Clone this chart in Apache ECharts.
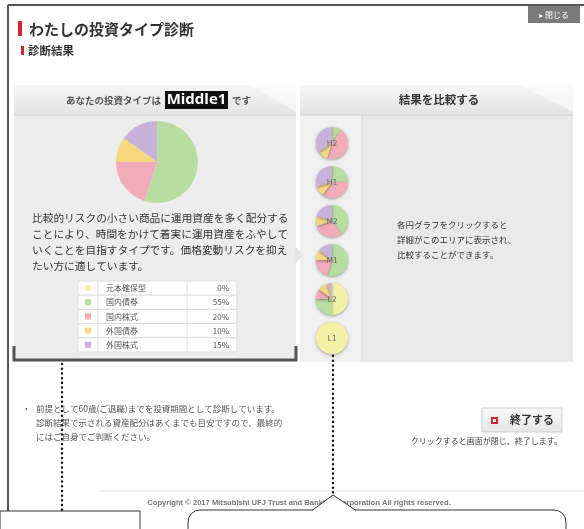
<!DOCTYPE html>
<html>
<head>
<meta charset="utf-8">
<script src="https://cdn.jsdelivr.net/npm/echarts@6/dist/echarts.min.js"></script>
<style>
  html, body { margin: 0; padding: 0; background: #fff; }
  #chart { width: 584px; height: 529px; }
</style>
</head>
<body>
<div id="chart"></div>
<script>
// data
const assetNames = ["元本確保型", "国内債券", "国内株式", "外国債券", "外国株式"];
const resultType = "Middle1";
const resultValues = [0, 55, 20, 10, 15];

const typeNames = ["H2", "H1", "M2", "M1", "L2", "L1"];
const typeH2 = [0, 10, 45, 10, 35];
const typeH1 = [0, 25, 35, 10, 30];
const typeM2 = [0, 40, 30, 10, 20];
const typeM1 = [0, 55, 20, 10, 15];
const typeL2 = [50, 25, 10, 10, 5];
const typeL1 = [100, 0, 0, 0, 0];
const typeValues = [typeH2, typeH1, typeM2, typeM1, typeL2, typeL1];

const resultLines = [
  "比較的リスクの小さい商品に運用資産を多く配分する",
  "ことにより、時間をかけて着実に運用資産をふやして",
  "いくことを目指すタイプです。価格変動リスクを抑え",
  "たい方に適しています。"
];
const compareLines = [
  "各円グラフをクリックすると",
  "詳細がこのエリアに表示され、",
  "比較することができます。"
];
const noteLines = [
  "前提として60歳(ご退職)までを投資期間として診断しています。",
  "診断結果で示される資産配分はあくまでも目安ですので、最終的",
  "にはご自身でご判断ください。"
];

// styles
const assetColors = ["#f3f1a6", "#b9dca0", "#f2abba", "#f6d87f", "#c9b2da"];
const FONT = '"Noto Sans CJK JP", "Noto Sans", sans-serif';

const chart = echarts.init(document.getElementById("chart"), null, { renderer: "canvas" });

function txt(text, x, y, size, opts) {
  opts = opts || {};
  return {
    type: "text",
    z: opts.z || 5,
    style: {
      text: text,
      x: x,
      y: y,
      fontSize: size,
      fontFamily: opts.family || FONT,
      fontWeight: opts.bold ? "bold" : "normal",
      fill: opts.color || "#444",
      textAlign: opts.align || "left",
      textVerticalAlign: "middle"
    }
  };
}

function rect(x, y, w, h, style, z) {
  return { type: "rect", z: z || 1, shape: { x: x, y: y, width: w, height: h }, style: style };
}

function line(x1, y1, x2, y2, style, z) {
  return { type: "line", z: z || 2, shape: { x1: x1, y1: y1, x2: x2, y2: y2 }, style: style };
}

function headerFill() {
  return new echarts.graphic.LinearGradient(0, 0, 0, 1, [
    { offset: 0, color: "#f6f6f6" },
    { offset: 1, color: "#e3e3e3" }
  ]);
}

const graphics = [];

// page frame
graphics.push(line(8, 5, 584, 5, { stroke: "#555", lineWidth: 2 }));
graphics.push(line(8, 5, 8, 512, { stroke: "#555", lineWidth: 2 }));
graphics.push(rect(528, 6, 52, 17, { fill: "#7a7a7a" }, 3));
graphics.push(txt("▸ 閉じる", 554, 15, 8, { color: "#fff", align: "center" }));

// titles
graphics.push(rect(18, 21, 4, 15, { fill: "#d9232d" }, 3));
graphics.push(txt("わたしの投資タイプ診断", 29, 29, 15, { color: "#333", bold: true }));
graphics.push(rect(21, 46, 3, 9, { fill: "#d9232d" }, 3));
graphics.push(txt("診断結果", 28, 51, 11.5, { color: "#333", bold: true }));

// left panel
graphics.push(rect(14, 85, 282, 275, { fill: "#ededed" }, 1));
graphics.push(rect(14, 85, 282, 30, { fill: headerFill() }, 2));
graphics.push({ type: "polygon", z: 2, shape: { points: [[250, 85], [296, 85], [296, 112]] }, style: { fill: "rgba(255,255,255,0.55)" } });
graphics.push(line(14, 115, 296, 115, { stroke: "#d2d2d2", lineWidth: 1 }, 3));
graphics.push(txt("あなたの投資タイプは", 161, 100, 9.5, { bold: true, color: "#555", align: "right" }));
graphics.push(rect(165, 91, 63, 18, { fill: "#111" }, 3));
graphics.push(txt(resultType, 196.5, 100, 15, { bold: true, color: "#fff", align: "center", family: '"Open Sans", "Noto Sans", sans-serif' }));
graphics.push(txt("です", 232, 100, 9.5, { bold: true, color: "#555" }));
resultLines.forEach((t, i) => graphics.push(txt(t, 32, 218 + i * 16, 10.7, { color: "#333" })));

// allocation table
const rowH = 14.2;
assetNames.forEach((name, i) => {
  const y = 281 + i * rowH;
  graphics.push(rect(78, y, 159, rowH, { fill: "#fff", stroke: "#dcdcdc", lineWidth: 1 }, 3));
  graphics.push(line(98, y, 98, y + rowH, { stroke: "#dcdcdc", lineWidth: 1 }, 4));
  graphics.push(line(187, y, 187, y + rowH, { stroke: "#dcdcdc", lineWidth: 1 }, 4));
  graphics.push(rect(85, y + 4, 6, 6, { fill: assetColors[i] }, 4));
  graphics.push(txt(name, 106, y + rowH / 2, 8, { color: "#555" }));
  graphics.push(txt(resultValues[i] + "%", 229, y + rowH / 2, 8, { color: "#555", align: "right" }));
});

// bracket under left panel
graphics.push({ type: "polyline", z: 4, shape: { points: [[14, 346], [14, 360], [296, 360], [296, 346]] }, style: { stroke: "#555", lineWidth: 3, fill: null } });

// arrow between panels
graphics.push({ type: "polygon", z: 4, shape: { points: [[296, 248], [303, 255], [296, 262]] }, style: { fill: "#e6e6e6", stroke: "#d8d8d8", lineWidth: 0.5 } });

// right panel
graphics.push(rect(300, 85, 273, 277, { fill: "#eaeaea" }, 1));
graphics.push(rect(300, 115, 62, 247, { fill: "#f0f0f0" }, 2));
graphics.push(line(362, 115, 362, 362, { stroke: "#dcdcdc", lineWidth: 1 }, 3));
graphics.push(rect(300, 85, 273, 30, { fill: headerFill() }, 2));
graphics.push({ type: "polygon", z: 2, shape: { points: [[520, 85], [573, 85], [573, 112]] }, style: { fill: "rgba(255,255,255,0.55)" } });
graphics.push(line(300, 115, 573, 115, { stroke: "#d2d2d2", lineWidth: 1 }, 3));
graphics.push(txt("結果を比較する", 439, 100, 11.5, { bold: true, color: "#333", align: "center" }));
compareLines.forEach((t, i) => graphics.push(txt(t, 397, 225 + i * 15, 8.5, { color: "#333" })));

// dotted leader lines
const dots = { stroke: "#111", lineWidth: 2.4, lineDash: [0.1, 4.6], lineCap: "round" };
graphics.push(line(62, 364, 62, 529, dots, 6));
graphics.push(line(333, 356, 333, 494, dots, 6));

// notes
graphics.push(txt("・", 22, 409, 8.5, { color: "#555" }));
noteLines.forEach((t, i) => graphics.push(txt(t, 36, 409 + i * 14, 8.5, { color: "#555" })));

// close button
graphics.push(rect(482, 408, 80, 24, {
  fill: new echarts.graphic.LinearGradient(0, 0, 0, 1, [
    { offset: 0, color: "#fafafa" }, { offset: 1, color: "#e6e6e6" }
  ]),
  stroke: "#cfcfcf", lineWidth: 1
}, 3));
graphics.push(rect(491, 417, 7, 7, { fill: "#d9232d" }, 4));
graphics.push(rect(493, 419, 3, 3, { fill: "#fff" }, 5));
graphics.push(txt("終了する", 510, 420, 11, { bold: true, color: "#333" }));
graphics.push(txt("クリックすると画面が閉じ、終了します。", 562, 441, 8, { color: "#444", align: "right" }));

// footer
graphics.push(line(100, 491, 584, 491, { stroke: "#e2e2e2", lineWidth: 1 }, 2));
graphics.push(txt("Copyright © 2017 Mitsubishi UFJ Trust and Banking Corporation All rights reserved.", 299, 503, 7.6, { bold: true, color: "#777", align: "center", family: '"Liberation Sans", Arial, sans-serif' }));

// bottom callouts
graphics.push(rect(0, 511, 140, 30, { fill: "#fff", stroke: "#333", lineWidth: 1 }, 7));
const callout = rect(188, 510, 378, 40, { fill: "#fff", stroke: "#333", lineWidth: 1 }, 7);
callout.shape.r = 12;
graphics.push(callout);
graphics.push({ type: "polygon", z: 8, shape: { points: [[312, 511], [333, 495], [356, 511]] }, style: { fill: "#fff" } });
graphics.push({ type: "polyline", z: 8, shape: { points: [[312, 510.5], [333, 495], [356, 510.5]] }, style: { stroke: "#333", lineWidth: 1, fill: null } });

const sliceData = (values) => assetNames.map((name, i) => ({
  name: name,
  value: values[i],
  itemStyle: { color: assetColors[i] }
}));

const series = [{
  type: "pie",
  z: 5,
  center: [157, 162],
  radius: 41,
  startAngle: 90,
  clockwise: true,
  silent: true,
  label: { show: false },
  labelLine: { show: false },
  itemStyle: { borderWidth: 0 },
  data: sliceData(resultValues)
}];

typeNames.forEach((name, k) => {
  const values = typeValues[k];
  const data = sliceData(values);
  const top = values.indexOf(Math.max.apply(null, values));
  data[top].label = {
    show: true,
    position: "center",
    formatter: name,
    color: "#666",
    fontSize: 8,
    fontFamily: FONT
  };
  series.push({
    type: "pie",
    z: 5,
    center: [332, 143 + k * 39],
    radius: 16,
    startAngle: 90,
    silent: true,
    label: { show: false },
    labelLine: { show: false },
    itemStyle: {
      borderWidth: 0,
      shadowBlur: 3,
      shadowColor: "rgba(0,0,0,0.35)",
      shadowOffsetY: 1
    },
    data: data
  });
});

chart.setOption({
  animation: false,
  backgroundColor: "#fff",
  graphic: { elements: graphics },
  series: series
});
</script>
</body>
</html>
